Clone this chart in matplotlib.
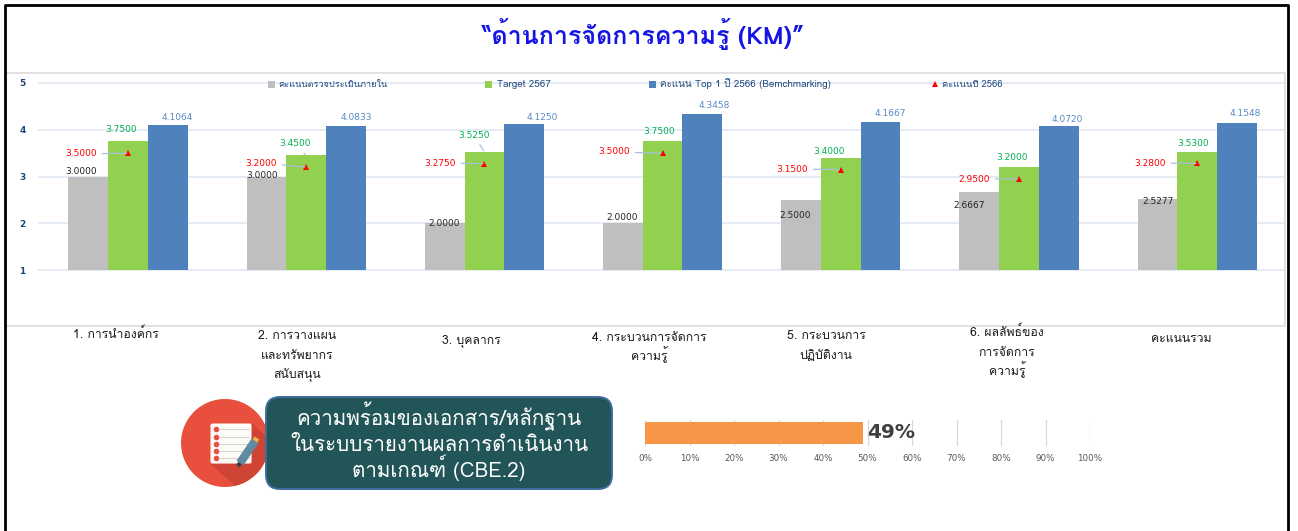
import matplotlib
matplotlib.use('Agg')
import matplotlib.pyplot as plt
import numpy as np
from matplotlib.patches import Circle, FancyBboxPatch, Polygon, Rectangle

W, H = 1298, 531
THAI = ['Loma', 'Noto Sans Thai Looped', 'DejaVu Sans']
plt.rcParams['font.family'] = THAI

title = '“ด้านการจัดการความรู้ (KM)”'
categories = ['1. การนำองค์กร', '2. การวางแผน\nและทรัพยากร\nสนับสนุน', '3. บุคลากร',
              '4. กระบวนการจัดการ\nความรู้', '5. กระบวนการ\nปฏิบัติงาน',
              '6. ผลลัพธ์ของ\nการจัดการ\nความรู้', 'คะแนนรวม']
internal = [3.0, 3.0, 2.0, 2.0, 2.5, 2.6667, 2.5277]
target = [3.75, 3.45, 3.525, 3.75, 3.4, 3.2, 3.53]
top1 = [4.1064, 4.0833, 4.125, 4.3458, 4.1667, 4.072, 4.1548]
score = [3.5, 3.2, 3.275, 3.5, 3.15, 2.95, 3.28]
series_names = ['คะแนนตรวจประเมินภายใน', 'Target 2567', 'คะแนน Top 1 ปี 2566 (Bemchmarking)', 'คะแนนปี 2566']
ready_pct = 49
ready_text = 'ความพร้อมของเอกสาร/หลักฐาน\nในระบบรายงานผลการดำเนินงาน\nตามเกณฑ์ (CBE.2)'

# where the labels sit, in pixels of the picture
internal_xy = [(81, 172), (262, 176), (444, 223), (622, 217), (795, 215), (969, 205), (1158, 202)]
target_xy = [(121, 130), (295, 144), (474, 135), (659, 132), (829, 151), (1012, 158), (1193, 143)]
top1_xy = [(177, 118), (356, 118), (542, 117), (714, 105), (890, 114), (1067, 120), (1245, 113)]
score_xy = [(81, 154), (261, 163), (440, 163), (614, 152), (792, 169), (974, 179), (1150, 163)]
cat_xy = [(116, 338), (297, 339), (471, 343), (649, 341), (826, 339), (1007, 336), (1181, 342)]
target_leader = [False, True, True, False, False, False, False]

GRAY, GREEN, BLUE, RED = '#bfbfbf', '#92d050', '#4f81bd', '#ff0000'
NAVY = '#1f497d'


def px_axes(left, top, right, bottom):
    return fig.add_axes([left / W, 1 - bottom / H, (right - left) / W, (bottom - top) / H])


fig = plt.figure(figsize=(W / 100, H / 100), dpi=100, facecolor='white')

# main chart
ax = px_axes(38, 73, 1285, 326)
step = 178.2
ax.set_xlim((38 - 128) / step, (1285 - 128) / step)
ax.set_ylim(1 - 56 / 46.8, 5 + 10 / 46.8)
x = np.arange(len(categories))
bw = 39.7 / step
ax.bar(x - bw, np.array(internal) - 1, bw, bottom=1, color=GRAY, zorder=2)
ax.bar(x, np.array(target) - 1, bw, bottom=1, color=GREEN, zorder=2)
ax.bar(x + bw, np.array(top1) - 1, bw, bottom=1, color=BLUE, zorder=2)
ax.plot(x, score, ls='none', marker='^', ms=4.2, color=RED, mew=0, zorder=4)
ax.set_yticks([1, 2, 3, 4, 5])
ax.set_xticks([])
ax.tick_params(axis='y', length=0, pad=9, labelsize=6.5, labelcolor=NAVY)
for t in ax.get_yticklabels():
    t.set_family('DejaVu Sans')
    t.set_weight('bold')
ax.grid(axis='y', color='#dce6f2', lw=1.1, zorder=1)
for s in ax.spines.values():
    s.set_visible(False)
ax.patch.set_alpha(0)

# overlay in picture pixels, for the text and the decoration
over = fig.add_axes([0, 0, 1, 1], zorder=5)
over.set_xlim(0, W)
over.set_ylim(H, 0)
over.axis('off')

# frame of the chart and black outer border
over.add_patch(Rectangle((6, 73), 1279, 253, fill=False, ec='#dcdcdc', lw=1.2))
over.plot([5, 5, 1288, 1288], [H, 5, 5, H], color='black', lw=2, solid_capstyle='butt')

over.text(643, 44, title, ha='center', va='baseline', color='#1414e6', fontsize=18, fontweight='bold')


def value_label(txt, i, val, pos, color, leader):
    arrow = dict(arrowstyle='-', color='#a9bfdc', lw=0.9, shrinkA=2, shrinkB=1) if leader else None
    ax.annotate(txt, xy=(i, val), xycoords='data', xytext=pos, textcoords=over.transData,
                ha='center', va='center', fontsize=6.5, color=color,
                family='DejaVu Sans', arrowprops=arrow, zorder=6, annotation_clip=False)


for i in range(len(categories)):
    value_label(f'{internal[i]:.4f}', i, internal[i], internal_xy[i], '#262626', False)
    value_label(f'{target[i]:.4f}', i, target[i], target_xy[i], '#00b050', target_leader[i])
    value_label(f'{top1[i]:.4f}', i, top1[i], top1_xy[i], '#5b8ac6', False)
    value_label(f'{score[i]:.4f}', i, score[i], score_xy[i], RED, True)
    cx, cy = cat_xy[i]
    for n, line in enumerate(categories[i].split('\n')):
        over.text(cx, cy + n * 19.7, line, ha='center', va='baseline', fontsize=8.8, color='#1a1a1a')

# legend, spaced out like the reference
for sx, tx, col, name, fs in [(271, 278, GRAY, series_names[0], 6.6), (488, 497, GREEN, series_names[1], 7.1),
                              (652, 660, BLUE, series_names[2], 7.1)]:
    over.add_patch(Rectangle((sx - 3.5, 80.5), 7, 7, fc=col, ec='none'))
    over.text(tx, 87, name, ha='left', va='baseline', fontsize=fs, color=NAVY)
over.plot([935], [84], marker='^', ms=4.2, color=RED, mew=0)
over.text(942, 87, series_names[3], ha='left', va='baseline', fontsize=6.8, color=NAVY)

# red round icon with note pad
circle = Circle((225, 443), 44, fc='#e94f3d', ec='none')
over.add_patch(circle)
shadow = Polygon([(252, 423), (275, 445), (275, 490), (240, 490), (210, 464), (252, 464)],
                 fc='#cf4535', ec='none')
over.add_patch(shadow)
shadow.set_clip_path(circle)
over.add_patch(FancyBboxPatch((211, 424), 40, 39, boxstyle='round,pad=0.5,rounding_size=2', fc='#fbfbf7', ec='none'))
for yy in [429, 437, 444, 451, 458]:
    over.plot([220, 249], [yy, yy], color='#d5d5d5', lw=0.8)
    over.plot([216], [yy], marker='o', ms=4, color='#e94f3d', mew=0)
over.plot([240, 255], [463, 441], color='#5f8a9f', lw=6, solid_capstyle='butt')
over.plot([255, 257], [441, 438], color='#e8b84a', lw=4, solid_capstyle='butt')
over.plot([238, 240], [466, 463], color='#2f3f4f', lw=3, solid_capstyle='butt')

# teal box
over.add_patch(FancyBboxPatch((266, 397), 346, 92, boxstyle='round,pad=0,rounding_size=14',
                              fc='#215558', ec='#3f6c9e', lw=1.4, zorder=3))
for n, line in enumerate(ready_text.split('\n')):
    over.text(439, [425, 451, 477][n], line, ha='center', va='baseline', color='white',
              fontsize=14.8, zorder=4)

# progress bar
bx = px_axes(645, 420, 1090, 446)
bx.barh([0], [ready_pct], height=0.88, color='#f79646', zorder=2)
bx.set_xlim(0, 100)
bx.set_ylim(-0.5, 0.5)
bx.set_yticks([])
bx.set_xticks(np.arange(0, 101, 10))
bx.set_xticklabels([f'{v}%' for v in range(0, 101, 10)], fontsize=6.3, color='#595959', family='DejaVu Sans')
bx.tick_params(axis='x', length=0, pad=6)
bx.grid(axis='x', color='#d9d9d9', lw=0.9, zorder=1)
for s in bx.spines.values():
    s.set_visible(False)
bx.text(ready_pct + 1, 0, f'{ready_pct}%', ha='left', va='center', fontsize=14.5,
        fontweight='bold', color='#404040', family='DejaVu Sans', zorder=3)

fig.savefig('out.png', dpi=100)
